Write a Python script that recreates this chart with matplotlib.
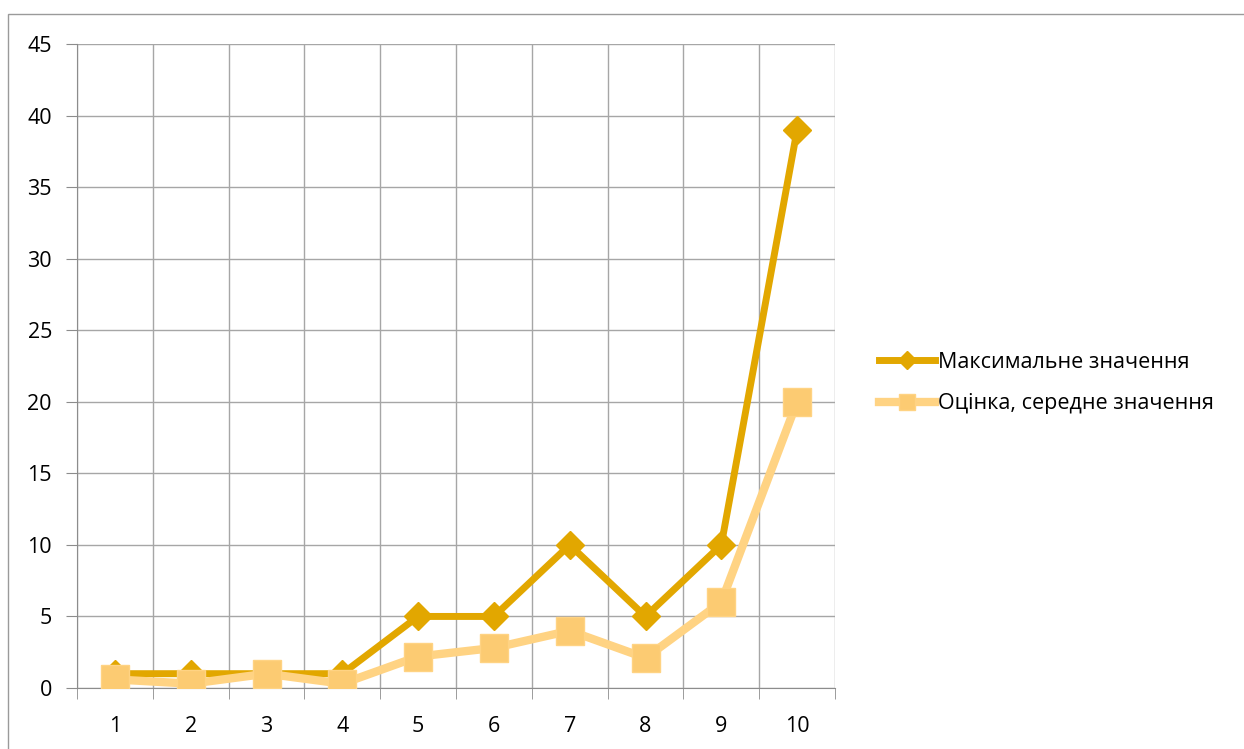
import matplotlib.pyplot as plt
import matplotlib.patches as mpatches
from matplotlib.lines import Line2D

categories = [1, 2, 3, 4, 5, 6, 7, 8, 9, 10]
max_values = [1, 1, 1, 1, 5, 5, 10, 5, 10, 39]
avg_values = [0.6, 0.3, 1, 0.3, 2.2, 2.8, 4, 2.1, 6, 20]
labels = ['Максимальне значення', 'Оцінка, середне значення']

plt.rcParams['font.family'] = ['Open Sans', 'DejaVu Sans']

fig = plt.figure(figsize=(12.44, 7.49), dpi=100)
fig.patches.append(mpatches.Rectangle((8 / 1244, -0.01), 1.1, 1 - 14 / 749 + 0.01,
                                      transform=fig.transFigure, fill=False,
                                      edgecolor='#9a9a9a', linewidth=1))
ax = fig.add_axes([77 / 1244, 1 - 688 / 749, (835 - 77) / 1244, (688 - 44) / 749])

dark = '#E2A700'
light = '#FFD383'
ax.plot(categories, max_values, color=dark, linewidth=5, marker='D', markersize=14,
        markerfacecolor=dark, markeredgecolor=dark, label=labels[0], zorder=3)
ax.plot(categories, avg_values, color=light, linewidth=6, marker='s', markersize=20,
        markerfacecolor='#FCCB72', markeredgecolor=light, label=labels[1], zorder=4)

ax.set_xlim(0.5, 10.5)
ax.set_ylim(0, 45)
ax.set_yticks(range(0, 46, 5))
ax.set_xticks(categories)
ax.set_xticks([c + 0.5 for c in [0] + categories], minor=True)
ax.tick_params(axis='x', which='major', length=0, pad=20, labelsize=15.5)
ax.tick_params(axis='x', which='minor', length=8, color='#8c8c8c', direction='out')
ax.tick_params(axis='y', length=8, color='#8c8c8c', labelsize=15.5, pad=10)
ax.grid(True, which='minor', axis='x', color='#a6a6a6', linewidth=1)
ax.grid(True, which='major', axis='y', color='#a6a6a6', linewidth=1)
for s in ['top', 'right']:
    ax.spines[s].set_visible(False)
for s in ['left', 'bottom']:
    ax.spines[s].set_color('#8c8c8c')

handles = [Line2D([], [], color=dark, linewidth=5, marker='D', markersize=9),
           Line2D([], [], color=light, linewidth=6, marker='s', markersize=11,
                  markerfacecolor='#FCCB72', markeredgecolor=light)]
fig.legend(handles, labels, loc='center left', bbox_to_anchor=(860 / 1244, 1 - 383 / 749),
           frameon=False, fontsize=15.5, handlelength=2.6, handletextpad=0.1,
           labelspacing=0.95)

fig.savefig('out.png', dpi=100)
